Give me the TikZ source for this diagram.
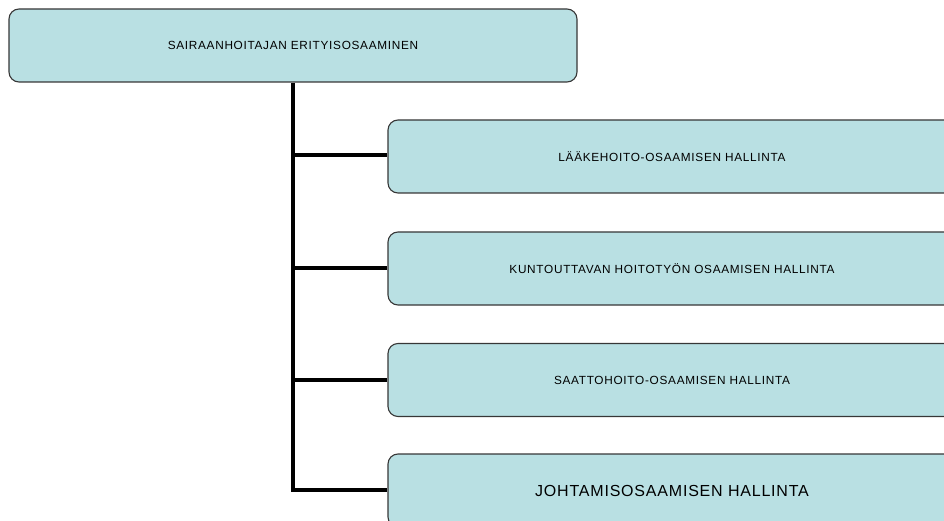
\documentclass[tikz,border=0pt]{standalone}
\usepackage{fontspec}
\setmainfont{Liberation Sans}
\newfontfamily\labelfont[LetterSpace=6]{Liberation Sans}
\newfontfamily\biglabelfont[LetterSpace=5]{Liberation Sans}
\definecolor{boxfill}{RGB}{185,224,227}
\definecolor{boxline}{RGB}{55,55,55}
\tikzset{
  x=1pt, y=-1pt,
  orgbox/.style={draw=boxline, line width=1.1pt, fill=boxfill, rounded corners=10pt,
                 rectangle, inner sep=0pt, minimum width=568pt, minimum height=73pt,
                 align=center},
  small/.style={font=\labelfont\fontsize{11.8}{14}\selectfont},
  large/.style={font=\biglabelfont\fontsize{16}{19}\selectfont},
  link/.style={line width=3.6pt, black}
}
\begin{document}
\begin{tikzpicture}
\useasboundingbox (0,0) rectangle (944,521);
\clip (0,0) rectangle (944,521);
% boxes with their labels
\node[orgbox, small] (top) at (293,45.5) {SAIRAANHOITAJAN ERITYISOSAAMINEN};
\node[orgbox, small] (b1) at (672,156.5) {LÄÄKEHOITO-OSAAMISEN HALLINTA};
\node[orgbox, small] (b2) at (672,268.5) {KUNTOUTTAVAN HOITOTYÖN OSAAMISEN HALLINTA};
\node[orgbox, small] (b3) at (672,380) {SAATTOHOITO-OSAAMISEN HALLINTA};
\node[orgbox, large] (b4) at (672,490.5) {JOHTAMISOSAAMISEN HALLINTA};
% connectors
\coordinate (j1) at (top.south |- 0,155);
\coordinate (j2) at (top.south |- 0,268);
\coordinate (j3) at (top.south |- 0,380);
\coordinate (j4) at (top.south |- 0,490);
\draw[link, line join=miter] (top.south) -- (j4) -- (b4.west |- j4);
\draw[link] (j1) -- (b1.west |- j1);
\draw[link] (j2) -- (b2.west |- j2);
\draw[link] (j3) -- (b3.west |- j3);
\end{tikzpicture}
\end{document}
